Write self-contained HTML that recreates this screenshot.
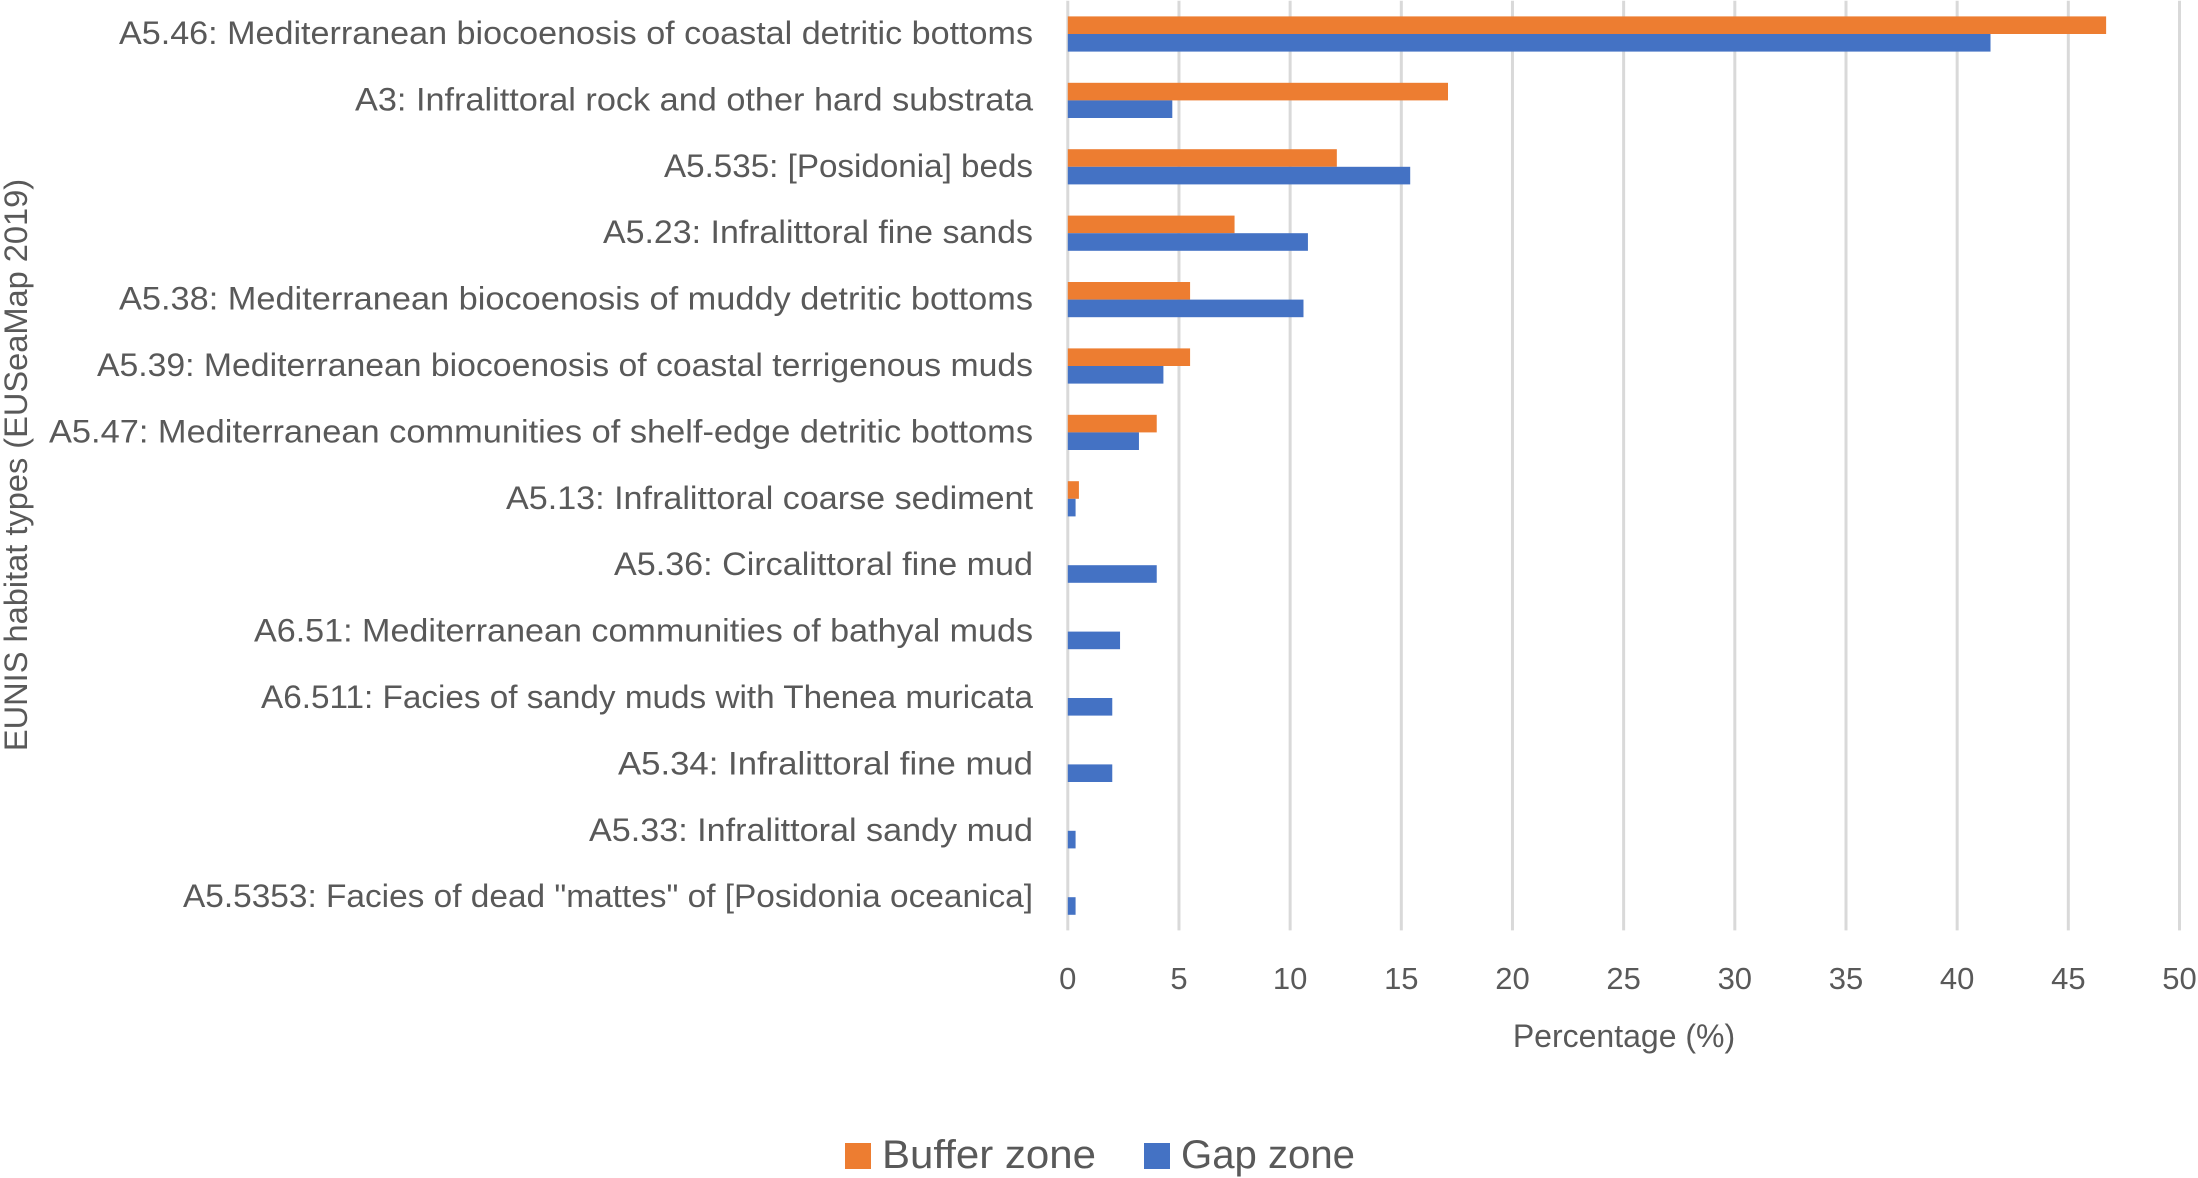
<!DOCTYPE html>
<html lang="en">
<head>
<meta charset="utf-8">
<title>EUNIS habitat types by zone</title>
<style>
html,body{margin:0;padding:0;background:#fff}
svg{display:block}
text{font-family:"Liberation Sans",sans-serif;fill:#595959}
</style>
</head>
<body>
<svg id="chart" xmlns="http://www.w3.org/2000/svg" width="2198" height="1178" viewBox="0 0 2198 1178"></svg>
<script>
const categories = [
  "A5.46: Mediterranean biocoenosis of coastal detritic bottoms",
  "A3: Infralittoral rock and other hard substrata",
  "A5.535: [Posidonia] beds",
  "A5.23: Infralittoral fine sands",
  "A5.38: Mediterranean biocoenosis of muddy detritic bottoms",
  "A5.39: Mediterranean biocoenosis of coastal terrigenous muds",
  "A5.47: Mediterranean communities of shelf-edge detritic bottoms",
  "A5.13: Infralittoral coarse sediment",
  "A5.36: Circalittoral fine mud",
  "A6.51: Mediterranean communities of bathyal muds",
  "A6.511: Facies of sandy muds with Thenea muricata",
  "A5.34: Infralittoral fine mud",
  "A5.33: Infralittoral sandy mud",
  "A5.5353: Facies of dead \"mattes\" of [Posidonia oceanica]"
];
const bufferZone = [46.7, 17.1, 12.1, 7.5, 5.5, 5.5, 4.0, 0.5, 0, 0, 0, 0, 0, 0];
const gapZone = [41.5, 4.7, 15.4, 10.8, 10.6, 4.3, 3.2, 0.35, 4.0, 2.35, 2.0, 2.0, 0.35, 0.35];
const xTicks = [0, 5, 10, 15, 20, 25, 30, 35, 40, 45, 50];

const NS = "http://www.w3.org/2000/svg";
const svg = document.getElementById("chart");
const plotLeft = 1067.8, plotRight = 2179.5, plotTop = 0.8, plotBottom = 930.4;
const xMax = 50;
const barH = 17.6;
// Rendered text widths for the category labels, to match the reference typeface metrics (layout only).
const labelFit = {
  "A5.46": 914, "A3": 678, "A5.535": 369, "A5.23": 430, "A5.38": 914, "A5.39": 936, "A5.47": 984,
  "A5.13": 527, "A5.36": 419, "A6.51": 779, "A6.511": 772, "A5.34": 415, "A5.33": 444, "A5.5353": 850
};
function xScale(v) { return plotLeft + (v / xMax) * (plotRight - plotLeft); }
function bandCenter(i) { return plotTop + (i + 0.5) * (plotBottom - plotTop) / categories.length; }
function make(tag, attrs, text) {
  const el = document.createElementNS(NS, tag);
  for (const k in attrs) el.setAttribute(k, attrs[k]);
  if (text !== undefined) el.textContent = text;
  svg.appendChild(el);
  return el;
}
function slug(s) { return s.split(":")[0].toLowerCase().replace(/[^a-z0-9]+/g, "-"); }

xTicks.forEach(function (t) {
  const line = make("line", { x1: xScale(t), x2: xScale(t), y1: plotTop, y2: plotBottom, stroke: "#D9D9D9", "stroke-width": 3 });
  
  
  const label = make("text", { x: xScale(t), y: 989, "text-anchor": "middle", "font-size": 31 }, String(t));
  
  
});

categories.forEach(function (c, i) {
  const cy = bandCenter(i);
  const label = make("text", { x: 1033, y: cy + 10, "text-anchor": "end", "font-size": 32, textLength: labelFit[c.split(":")[0]], lengthAdjust: "spacingAndGlyphs" }, c);
  
  
  if (bufferZone[i] > 0) {
    const b = make("rect", { x: xScale(0), y: cy - barH, width: xScale(bufferZone[i]) - xScale(0), height: barH, fill: "#ED7D31" });
    
    
  }
  if (gapZone[i] > 0) {
    const g = make("rect", { x: xScale(0), y: cy, width: xScale(gapZone[i]) - xScale(0), height: barH, fill: "#4472C4" });
    
    
  }
});

const xTitle = make("text", { x: 1624, y: 1047, "text-anchor": "middle", "font-size": 32 }, "Percentage (%)");



const yTitle = make("text", { x: 0, y: 0, transform: "translate(27 465) rotate(-90)", "text-anchor": "middle", "font-size": 32.6 }, "EUNIS habitat types (EUSeaMap 2019)");



const swatchBuffer = make("rect", { x: 845, y: 1143, width: 26, height: 26, fill: "#ED7D31" });


const legendBuffer = make("text", { x: 882, y: 1168, "font-size": 40, textLength: 214, lengthAdjust: "spacingAndGlyphs" }, "Buffer zone");


const swatchGap = make("rect", { x: 1144, y: 1143, width: 26, height: 26, fill: "#4472C4" });


const legendGap = make("text", { x: 1181, y: 1168, "font-size": 40, textLength: 174, lengthAdjust: "spacingAndGlyphs" }, "Gap zone");


</script>
</body>
</html>
